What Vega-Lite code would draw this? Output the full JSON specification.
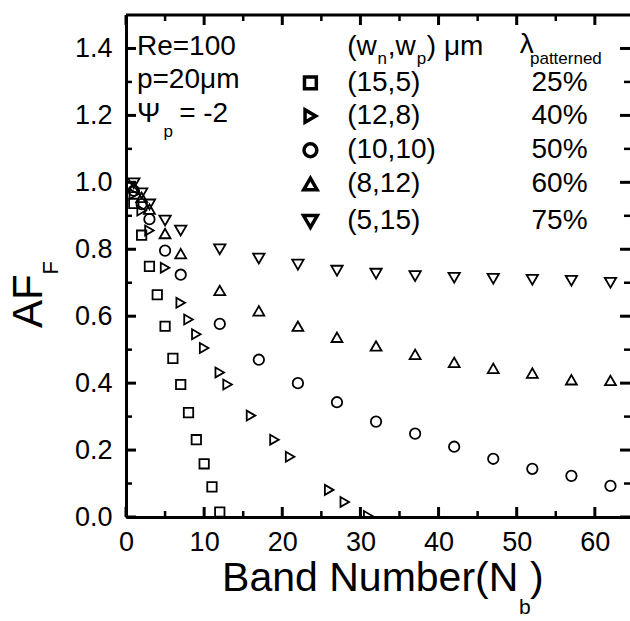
{
  "$schema": "https://vega.github.io/schema/vega-lite/v6.json",
  "width": 504,
  "height": 502,
  "autosize": "none",
  "padding": {"left": 126, "top": 15, "right": 0, "bottom": 104},
  "background": "white",
  "config": {
    "font": "Liberation Sans",
    "view": {"stroke": null},
    "axis": {"labelFont": "Liberation Sans", "labelFontSize": 27, "labelColor": "black", "domainColor": "black", "tickColor": "black", "grid": false, "labelFlush": false, "labelOverlap": false},
    "text": {"font": "Liberation Sans", "color": "black"}
  },
  "datasets": {
    "pts": [
      {"s": "(15,5)", "n": 1, "af": 0.937}, {"s": "(15,5)", "n": 2, "af": 0.842}, {"s": "(15,5)", "n": 3, "af": 0.749}, {"s": "(15,5)", "n": 4, "af": 0.664}, {"s": "(15,5)", "n": 5, "af": 0.570}, {"s": "(15,5)", "n": 6, "af": 0.474}, {"s": "(15,5)", "n": 7, "af": 0.396}, {"s": "(15,5)", "n": 8, "af": 0.312}, {"s": "(15,5)", "n": 9, "af": 0.231}, {"s": "(15,5)", "n": 10, "af": 0.159}, {"s": "(15,5)", "n": 11, "af": 0.090}, {"s": "(15,5)", "n": 12, "af": 0.015},
      {"s": "(12,8)", "n": 1, "af": 0.965}, {"s": "(12,8)", "n": 2, "af": 0.916}, {"s": "(12,8)", "n": 3, "af": 0.856}, {"s": "(12,8)", "n": 5, "af": 0.745}, {"s": "(12,8)", "n": 7, "af": 0.640}, {"s": "(12,8)", "n": 8, "af": 0.590}, {"s": "(12,8)", "n": 9, "af": 0.546}, {"s": "(12,8)", "n": 10, "af": 0.505}, {"s": "(12,8)", "n": 12, "af": 0.432}, {"s": "(12,8)", "n": 13, "af": 0.396}, {"s": "(12,8)", "n": 16, "af": 0.303}, {"s": "(12,8)", "n": 19, "af": 0.231}, {"s": "(12,8)", "n": 21, "af": 0.180}, {"s": "(12,8)", "n": 26, "af": 0.081}, {"s": "(12,8)", "n": 28, "af": 0.045}, {"s": "(12,8)", "n": 31, "af": 0.003},
      {"s": "(10,10)", "n": 1, "af": 0.975}, {"s": "(10,10)", "n": 2, "af": 0.935}, {"s": "(10,10)", "n": 3, "af": 0.890}, {"s": "(10,10)", "n": 5, "af": 0.796}, {"s": "(10,10)", "n": 7, "af": 0.724}, {"s": "(10,10)", "n": 12, "af": 0.577}, {"s": "(10,10)", "n": 17, "af": 0.470}, {"s": "(10,10)", "n": 22, "af": 0.400}, {"s": "(10,10)", "n": 27, "af": 0.343}, {"s": "(10,10)", "n": 32, "af": 0.285}, {"s": "(10,10)", "n": 37, "af": 0.249}, {"s": "(10,10)", "n": 42, "af": 0.210}, {"s": "(10,10)", "n": 47, "af": 0.174}, {"s": "(10,10)", "n": 52, "af": 0.144}, {"s": "(10,10)", "n": 57, "af": 0.123}, {"s": "(10,10)", "n": 62, "af": 0.093},
      {"s": "(8,12)", "n": 1, "af": 0.985}, {"s": "(8,12)", "n": 2, "af": 0.955}, {"s": "(8,12)", "n": 3, "af": 0.920}, {"s": "(8,12)", "n": 5, "af": 0.847}, {"s": "(8,12)", "n": 7, "af": 0.787}, {"s": "(8,12)", "n": 12, "af": 0.677}, {"s": "(8,12)", "n": 17, "af": 0.616}, {"s": "(8,12)", "n": 22, "af": 0.570}, {"s": "(8,12)", "n": 27, "af": 0.537}, {"s": "(8,12)", "n": 32, "af": 0.511}, {"s": "(8,12)", "n": 37, "af": 0.486}, {"s": "(8,12)", "n": 42, "af": 0.462}, {"s": "(8,12)", "n": 47, "af": 0.444}, {"s": "(8,12)", "n": 52, "af": 0.430}, {"s": "(8,12)", "n": 57, "af": 0.410}, {"s": "(8,12)", "n": 62, "af": 0.408},
      {"s": "(5,15)", "n": 1, "af": 0.997}, {"s": "(5,15)", "n": 2, "af": 0.967}, {"s": "(5,15)", "n": 3, "af": 0.934}, {"s": "(5,15)", "n": 5, "af": 0.886}, {"s": "(5,15)", "n": 7, "af": 0.856}, {"s": "(5,15)", "n": 12, "af": 0.800}, {"s": "(5,15)", "n": 17, "af": 0.772}, {"s": "(5,15)", "n": 22, "af": 0.754}, {"s": "(5,15)", "n": 27, "af": 0.736}, {"s": "(5,15)", "n": 32, "af": 0.727}, {"s": "(5,15)", "n": 37, "af": 0.720}, {"s": "(5,15)", "n": 42, "af": 0.715}, {"s": "(5,15)", "n": 47, "af": 0.712}, {"s": "(5,15)", "n": 52, "af": 0.709}, {"s": "(5,15)", "n": 57, "af": 0.706}, {"s": "(5,15)", "n": 62, "af": 0.700}
    ],
    "xt": [
      {"e": "b", "k": "maj", "v": 0, "p": 0}, {"e": "b", "k": "maj", "v": 10, "p": 0}, {"e": "b", "k": "maj", "v": 20, "p": 0}, {"e": "b", "k": "maj", "v": 30, "p": 0}, {"e": "b", "k": "maj", "v": 40, "p": 0}, {"e": "b", "k": "maj", "v": 50, "p": 0}, {"e": "b", "k": "maj", "v": 60, "p": 0},
      {"e": "b", "k": "min", "v": 5, "p": 0}, {"e": "b", "k": "min", "v": 15, "p": 0}, {"e": "b", "k": "min", "v": 25, "p": 0}, {"e": "b", "k": "min", "v": 35, "p": 0}, {"e": "b", "k": "min", "v": 45, "p": 0}, {"e": "b", "k": "min", "v": 55, "p": 0},
      {"e": "t", "k": "maj", "v": 0, "p": 1.5}, {"e": "t", "k": "maj", "v": 10, "p": 1.5}, {"e": "t", "k": "maj", "v": 20, "p": 1.5}, {"e": "t", "k": "maj", "v": 30, "p": 1.5}, {"e": "t", "k": "maj", "v": 40, "p": 1.5}, {"e": "t", "k": "maj", "v": 50, "p": 1.5}, {"e": "t", "k": "maj", "v": 60, "p": 1.5},
      {"e": "t", "k": "min", "v": 5, "p": 1.5}, {"e": "t", "k": "min", "v": 15, "p": 1.5}, {"e": "t", "k": "min", "v": 25, "p": 1.5}, {"e": "t", "k": "min", "v": 35, "p": 1.5}, {"e": "t", "k": "min", "v": 45, "p": 1.5}, {"e": "t", "k": "min", "v": 55, "p": 1.5}
    ],
    "yt": [
      {"e": "l", "k": "maj", "v": 0, "p": 0}, {"e": "l", "k": "maj", "v": 0.2, "p": 0}, {"e": "l", "k": "maj", "v": 0.4, "p": 0}, {"e": "l", "k": "maj", "v": 0.6, "p": 0}, {"e": "l", "k": "maj", "v": 0.8, "p": 0}, {"e": "l", "k": "maj", "v": 1.0, "p": 0}, {"e": "l", "k": "maj", "v": 1.2, "p": 0}, {"e": "l", "k": "maj", "v": 1.4, "p": 0},
      {"e": "l", "k": "min", "v": 0.1, "p": 0}, {"e": "l", "k": "min", "v": 0.3, "p": 0}, {"e": "l", "k": "min", "v": 0.5, "p": 0}, {"e": "l", "k": "min", "v": 0.7, "p": 0}, {"e": "l", "k": "min", "v": 0.9, "p": 0}, {"e": "l", "k": "min", "v": 1.1, "p": 0}, {"e": "l", "k": "min", "v": 1.3, "p": 0},
      {"e": "r", "k": "maj", "v": 0, "p": 64.5}, {"e": "r", "k": "maj", "v": 0.2, "p": 64.5}, {"e": "r", "k": "maj", "v": 0.4, "p": 64.5}, {"e": "r", "k": "maj", "v": 0.6, "p": 64.5}, {"e": "r", "k": "maj", "v": 0.8, "p": 64.5}, {"e": "r", "k": "maj", "v": 1.0, "p": 64.5}, {"e": "r", "k": "maj", "v": 1.2, "p": 64.5}, {"e": "r", "k": "maj", "v": 1.4, "p": 64.5},
      {"e": "r", "k": "min", "v": 0.1, "p": 64.5}, {"e": "r", "k": "min", "v": 0.3, "p": 64.5}, {"e": "r", "k": "min", "v": 0.5, "p": 64.5}, {"e": "r", "k": "min", "v": 0.7, "p": 64.5}, {"e": "r", "k": "min", "v": 0.9, "p": 64.5}, {"e": "r", "k": "min", "v": 1.1, "p": 64.5}, {"e": "r", "k": "min", "v": 1.3, "p": 64.5}
    ],
    "frame": [{"x1": 0, "x2": 64.5, "y": 1.5}],
    "legsym": [
      {"s": "(15,5)", "x": 23.6, "y": 1.297},
      {"s": "(12,8)", "x": 23.6, "y": 1.198},
      {"s": "(10,10)", "x": 23.6, "y": 1.096},
      {"s": "(8,12)", "x": 23.6, "y": 0.995},
      {"s": "(5,15)", "x": 23.6, "y": 0.883}
    ],
    "txt": [
      {"t": "Re=100", "x": 1.4, "y": 1.405},
      {"t": "p=20μm", "x": 1.4, "y": 1.305},
      {"t": "Ψ", "x": 1.4, "y": 1.205},
      {"t": "= -2", "x": 6.8, "y": 1.205},
      {"t": "(w", "x": 28.3, "y": 1.405},
      {"t": ",w", "x": 33.5, "y": 1.405},
      {"t": ") μm", "x": 38.5, "y": 1.405},
      {"t": "λ", "x": 50.4, "y": 1.41},
      {"t": "(15,5)", "x": 28.3, "y": 1.297},
      {"t": "(12,8)", "x": 28.3, "y": 1.198},
      {"t": "(10,10)", "x": 28.3, "y": 1.096},
      {"t": "(8,12)", "x": 28.3, "y": 0.995},
      {"t": "(5,15)", "x": 28.3, "y": 0.883},
      {"t": "25%", "x": 51.9, "y": 1.297},
      {"t": "40%", "x": 51.9, "y": 1.198},
      {"t": "50%", "x": 51.9, "y": 1.096},
      {"t": "60%", "x": 51.9, "y": 0.995},
      {"t": "75%", "x": 51.9, "y": 0.883}
    ],
    "sub18": [
      {"t": "p", "x": 4.8, "y": 1.15},
      {"t": "n", "x": 32.2, "y": 1.37},
      {"t": "p", "x": 37.2, "y": 1.37},
      {"t": "patterned", "x": 51.7, "y": 1.37}
    ],
    "xtitle": [
      {"t": "Band Number(N", "x": 12.3, "y": -0.185},
      {"t": ")", "x": 51.7, "y": -0.185}
    ],
    "xsub": [
      {"t": "b", "x": 50.3, "y": -0.272}
    ],
    "ytitle": [
      {"t": "AF", "x": -12.4, "y": 0.645}
    ],
    "ysub": [
      {"t": "F", "x": -9.6, "y": 0.745}
    ]
  },
  "layer": [
    {
      "data": {"name": "pts"},
      "mark": {"type": "point", "filled": false, "stroke": "black", "strokeWidth": 1.8, "opacity": 1, "clip": true},
      "encoding": {
        "x": {"field": "n", "type": "quantitative", "scale": {"domain": [0, 64.5], "nice": false, "zero": false},
          "axis": {"orient": "bottom", "values": [0, 10, 20, 30, 40, 50, 60], "ticks": false, "domain": true, "domainWidth": 3, "labelPadding": 12, "title": null}},
        "y": {"field": "af", "type": "quantitative", "scale": {"domain": [0, 1.5], "nice": false, "zero": false},
          "axis": {"orient": "left", "values": [0, 0.2, 0.4, 0.6, 0.8, 1.0, 1.2, 1.4], "format": ".1f", "ticks": false, "domain": true, "domainWidth": 3, "labelPadding": 14, "title": null}},
        "shape": {"field": "s", "type": "nominal", "scale": {"domain": ["(15,5)", "(12,8)", "(10,10)", "(8,12)", "(5,15)"], "range": ["square", "triangle-right", "circle", "triangle-up", "triangle-down"]}, "legend": null},
        "size": {"field": "s", "type": "ordinal", "scale": {"domain": ["(15,5)", "(12,8)", "(10,10)", "(8,12)", "(5,15)"], "range": [88, 130, 115, 140, 140]}, "legend": null}
      }
    },
    {
      "data": {"name": "xt"},
      "transform": [{"filter": "datum.e === 'b' && datum.k === 'maj'"}],
      "mark": {"type": "tick", "orient": "vertical", "color": "black", "opacity": 1, "size": 10, "thickness": 3, "yOffset": -5},
      "encoding": {"x": {"field": "v", "type": "quantitative"}, "y": {"field": "p", "type": "quantitative"}}
    },
    {
      "data": {"name": "xt"},
      "transform": [{"filter": "datum.e === 'b' && datum.k === 'min'"}],
      "mark": {"type": "tick", "orient": "vertical", "color": "black", "opacity": 1, "size": 6, "thickness": 2.5, "yOffset": -3},
      "encoding": {"x": {"field": "v", "type": "quantitative"}, "y": {"field": "p", "type": "quantitative"}}
    },
    {
      "data": {"name": "xt"},
      "transform": [{"filter": "datum.e === 't' && datum.k === 'maj'"}],
      "mark": {"type": "tick", "orient": "vertical", "color": "black", "opacity": 1, "size": 10, "thickness": 3, "yOffset": 5},
      "encoding": {"x": {"field": "v", "type": "quantitative"}, "y": {"field": "p", "type": "quantitative"}}
    },
    {
      "data": {"name": "xt"},
      "transform": [{"filter": "datum.e === 't' && datum.k === 'min'"}],
      "mark": {"type": "tick", "orient": "vertical", "color": "black", "opacity": 1, "size": 6, "thickness": 2.5, "yOffset": 3},
      "encoding": {"x": {"field": "v", "type": "quantitative"}, "y": {"field": "p", "type": "quantitative"}}
    },
    {
      "data": {"name": "yt"},
      "transform": [{"filter": "datum.e === 'l' && datum.k === 'maj'"}],
      "mark": {"type": "tick", "orient": "horizontal", "color": "black", "opacity": 1, "size": 10, "thickness": 3, "xOffset": 5},
      "encoding": {"y": {"field": "v", "type": "quantitative"}, "x": {"field": "p", "type": "quantitative"}}
    },
    {
      "data": {"name": "yt"},
      "transform": [{"filter": "datum.e === 'l' && datum.k === 'min'"}],
      "mark": {"type": "tick", "orient": "horizontal", "color": "black", "opacity": 1, "size": 6, "thickness": 2.5, "xOffset": 3},
      "encoding": {"y": {"field": "v", "type": "quantitative"}, "x": {"field": "p", "type": "quantitative"}}
    },
    {
      "data": {"name": "yt"},
      "transform": [{"filter": "datum.e === 'r' && datum.k === 'maj'"}],
      "mark": {"type": "tick", "orient": "horizontal", "color": "black", "opacity": 1, "size": 10, "thickness": 3, "xOffset": -5},
      "encoding": {"y": {"field": "v", "type": "quantitative"}, "x": {"field": "p", "type": "quantitative"}}
    },
    {
      "data": {"name": "yt"},
      "transform": [{"filter": "datum.e === 'r' && datum.k === 'min'"}],
      "mark": {"type": "tick", "orient": "horizontal", "color": "black", "opacity": 1, "size": 6, "thickness": 2.5, "xOffset": -3},
      "encoding": {"y": {"field": "v", "type": "quantitative"}, "x": {"field": "p", "type": "quantitative"}}
    },
    {
      "data": {"name": "frame"},
      "mark": {"type": "rule", "color": "black", "strokeWidth": 3},
      "encoding": {
        "x": {"field": "x1", "type": "quantitative"},
        "x2": {"field": "x2"},
        "y": {"field": "y", "type": "quantitative"}
      }
    },
    {
      "data": {"name": "legsym"},
      "mark": {"type": "point", "filled": false, "stroke": "black", "strokeWidth": 3.5, "opacity": 1},
      "encoding": {
        "x": {"field": "x", "type": "quantitative"},
        "y": {"field": "y", "type": "quantitative"},
        "shape": {"field": "s", "type": "nominal", "scale": {"domain": ["(15,5)", "(12,8)", "(10,10)", "(8,12)", "(5,15)"], "range": ["square", "triangle-right", "circle", "triangle-up", "triangle-down"]}, "legend": null},
        "size": {"field": "s", "type": "ordinal", "scale": {"domain": ["(15,5)", "(12,8)", "(10,10)", "(8,12)", "(5,15)"], "range": [140, 190, 160, 250, 290]}, "legend": null}
      }
    },
    {
      "data": {"name": "txt"},
      "mark": {"type": "text", "align": "left", "baseline": "middle", "fontSize": 28},
      "encoding": {
        "x": {"field": "x", "type": "quantitative"},
        "y": {"field": "y", "type": "quantitative"},
        "text": {"field": "t", "type": "nominal"}
      }
    },
    {
      "data": {"name": "sub18"},
      "mark": {"type": "text", "align": "left", "baseline": "middle", "fontSize": 17},
      "encoding": {
        "x": {"field": "x", "type": "quantitative"},
        "y": {"field": "y", "type": "quantitative"},
        "text": {"field": "t", "type": "nominal"}
      }
    },
    {
      "data": {"name": "xtitle"},
      "mark": {"type": "text", "align": "left", "baseline": "middle", "fontSize": 41},
      "encoding": {
        "x": {"field": "x", "type": "quantitative"},
        "y": {"field": "y", "type": "quantitative"},
        "text": {"field": "t", "type": "nominal"}
      }
    },
    {
      "data": {"name": "xsub"},
      "mark": {"type": "text", "align": "left", "baseline": "middle", "fontSize": 21},
      "encoding": {
        "x": {"field": "x", "type": "quantitative"},
        "y": {"field": "y", "type": "quantitative"},
        "text": {"field": "t", "type": "nominal"}
      }
    },
    {
      "data": {"name": "ytitle"},
      "mark": {"type": "text", "align": "center", "baseline": "middle", "fontSize": 42, "angle": 270},
      "encoding": {
        "x": {"field": "x", "type": "quantitative"},
        "y": {"field": "y", "type": "quantitative"},
        "text": {"field": "t", "type": "nominal"}
      }
    },
    {
      "data": {"name": "ysub"},
      "mark": {"type": "text", "align": "center", "baseline": "middle", "fontSize": 22, "angle": 270},
      "encoding": {
        "x": {"field": "x", "type": "quantitative"},
        "y": {"field": "y", "type": "quantitative"},
        "text": {"field": "t", "type": "nominal"}
      }
    }
  ],
  "resolve": {"scale": {"size": "independent"}}
}
